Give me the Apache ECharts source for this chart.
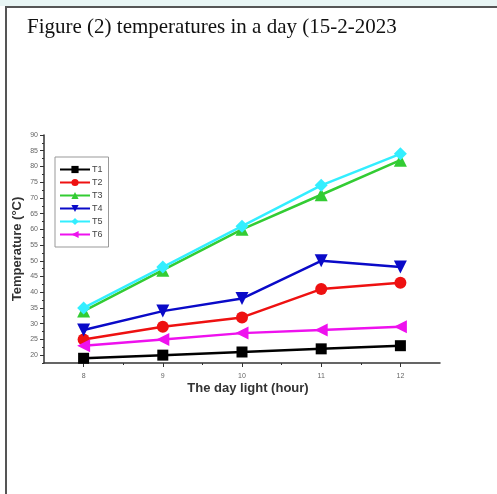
<!DOCTYPE html>
<html>
<head>
<meta charset="UTF-8">
<script src="https://cdn.jsdelivr.net/npm/echarts@6/dist/echarts.min.js"></script>
<style>
  * { margin: 0; padding: 0; box-sizing: border-box; }
  body { background: #fff; }
  #chart { width: 497px; height: 494px; }
</style>
</head>
<body>
<div id="chart"></div>
<script>
// data
var hours = [8, 9, 10, 11, 12];
var seriesNames = ['T1', 'T2', 'T3', 'T4', 'T5', 'T6'];
var T1 = [19, 20, 21, 22, 23];
var T2 = [25, 29, 32, 41, 43];
var T3 = [34, 47, 60, 71, 82];
var T4 = [28, 34, 38, 50, 48];
var T5 = [35, 48, 61, 74, 84];
var T6 = [23, 25, 27, 28, 29];
var yMajor = [20, 25, 30, 35, 40, 45, 50, 55, 60, 65, 70, 75, 80, 85, 90];
var yMinor = [17.5, 22.5, 27.5, 32.5, 37.5, 42.5, 47.5, 52.5, 57.5, 62.5, 67.5, 72.5, 77.5, 82.5, 87.5];
var xMinor = [8.5, 9.5, 10.5, 11.5];

var values = [T1, T2, T3, T4, T5, T6];
var colors = ['#000000', '#ee1111', '#33cc33', '#0a0ac8', '#33eeff', '#ee11ee'];
var symbols = ['rect', 'circle', 'triangle', 'triangle', 'diamond', 'triangle'];
var rotates = [0, 0, 0, 180, 0, 90];
var sizes = [11, 12, 13, 13, 13, 13];

var chart = echarts.init(document.getElementById('chart'));

var axisCol = '#333';
var labelCol = '#666';

var series = seriesNames.map(function (name, i) {
  return {
    name: name,
    type: 'line',
    data: hours.map(function (h, j) { return [h, values[i][j]]; }),
    symbol: symbols[i],
    symbolRotate: rotates[i],
    symbolSize: sizes[i],
    lineStyle: { color: colors[i], width: 2.5 },
    itemStyle: { color: colors[i] },
    emphasis: { disabled: true },
    z: 2 + i
  };
});

var option = {
  animation: false,
  title: {
    text: 'Figure (2) temperatures in a day (15-2-2023',
    left: 22,
    top: 12,
    textStyle: { fontFamily: 'Liberation Serif', fontSize: 21, fontWeight: 'normal', color: '#111' }
  },
  graphic: [
    { type: 'rect', shape: { x: 0, y: 0, width: 497, height: 6 }, style: { fill: '#e8f5f4' }, silent: true },
    { type: 'line', shape: { x1: 5, y1: 7, x2: 497, y2: 7 }, style: { stroke: '#555', lineWidth: 2 }, silent: true },
    { type: 'line', shape: { x1: 6, y1: 7, x2: 6, y2: 494 }, style: { stroke: '#555', lineWidth: 2 }, silent: true }
  ],
  legend: {
    orient: 'vertical',
    left: 55,
    top: 157,
    data: seriesNames,
    itemWidth: 30,
    itemHeight: 9,
    itemGap: 4,
    padding: [8, 6, 8, 4],
    borderColor: '#999',
    borderWidth: 1,
    textStyle: { fontFamily: 'Arial', fontSize: 9, color: '#444', padding: [0, 0, 0, -3] }
  },
  grid: { left: 44, right: 57, top: 135, bottom: 131 },
  xAxis: [
    {
      type: 'value', min: 7.5, max: 12.5,
      name: 'The day light (hour)', nameLocation: 'middle', nameGap: 19,
      nameTextStyle: { fontFamily: 'Arial', fontWeight: 'bold', fontSize: 13, color: '#333', padding: [0, 0, 0, 12] },
      axisLine: { lineStyle: { color: axisCol, width: 1.5 } },
      axisTick: { customValues: hours, length: 4, lineStyle: { color: axisCol } },
      axisLabel: { customValues: hours, fontSize: 7, color: labelCol, margin: 10 },
      splitLine: { show: false }
    },
    {
      type: 'value', min: 7.5, max: 12.5, position: 'bottom',
      axisLine: { show: false },
      axisTick: { customValues: xMinor, length: 2, lineStyle: { color: axisCol } },
      axisLabel: { show: false },
      splitLine: { show: false }
    }
  ],
  yAxis: [
    {
      type: 'value', min: 17.5, max: 90,
      name: 'Temperature (\u00b0C)', nameLocation: 'middle', nameGap: 20,
      nameMoveOverlap: false,
      nameTextStyle: { fontFamily: 'Arial', fontWeight: 'bold', fontSize: 13, color: '#333' },
      axisLine: { show: true, lineStyle: { color: axisCol, width: 1.5 } },
      axisTick: { show: true, customValues: yMajor, length: 4, lineStyle: { color: axisCol } },
      axisLabel: { customValues: yMajor, fontSize: 7, color: labelCol, margin: 6 },
      splitLine: { show: false }
    },
    {
      type: 'value', min: 17.5, max: 90, position: 'left',
      axisLine: { show: false },
      axisTick: { show: true, customValues: yMinor, length: 2, lineStyle: { color: axisCol } },
      axisLabel: { show: false },
      splitLine: { show: false }
    }
  ],
  series: series
};

chart.setOption(option);
</script>
</body>
</html>
